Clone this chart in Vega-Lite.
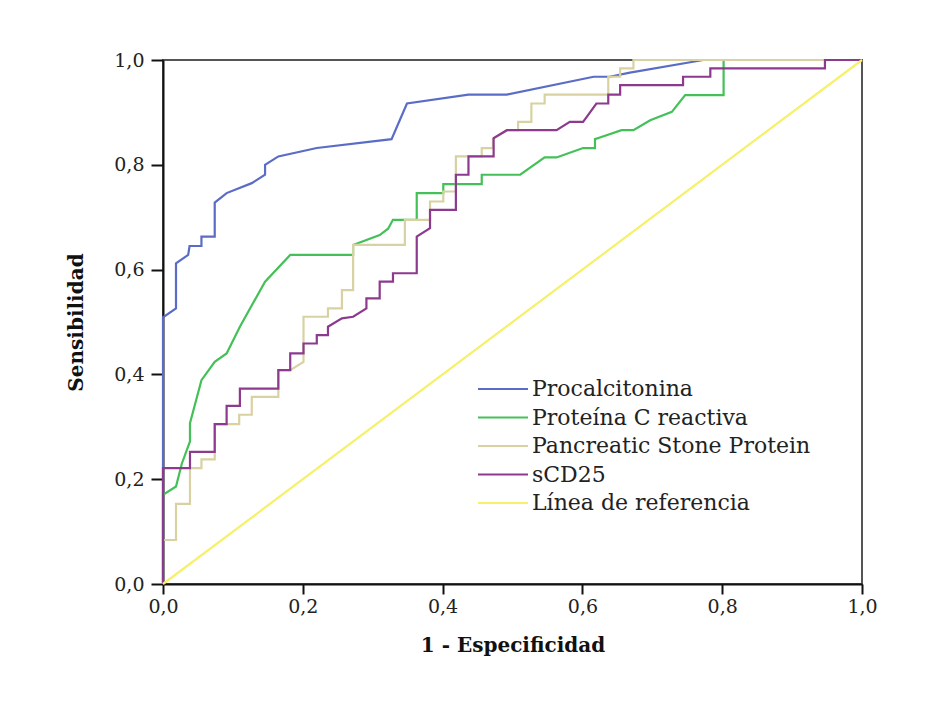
{
  "$schema": "https://vega.github.io/schema/vega-lite/v6.json",
  "autosize": "none",
  "width": 699,
  "height": 524,
  "padding": {"left": 163, "top": 60, "right": 75, "bottom": 127},
  "background": "white",
  "config": {
    "view": {"stroke": "#555555", "strokeWidth": 2},
    "font": "DejaVu Serif"
  },
  "data": {"values": [
    {"s":"Procalcitonina","i":0,"x":0,"y":0},
    {"s":"Procalcitonina","i":1,"x":0,"y":0.509},
    {"s":"Procalcitonina","i":2,"x":0.0186,"y":0.526},
    {"s":"Procalcitonina","i":3,"x":0.0186,"y":0.612},
    {"s":"Procalcitonina","i":4,"x":0.036,"y":0.628},
    {"s":"Procalcitonina","i":5,"x":0.038,"y":0.645},
    {"s":"Procalcitonina","i":6,"x":0.055,"y":0.645},
    {"s":"Procalcitonina","i":7,"x":0.055,"y":0.663},
    {"s":"Procalcitonina","i":8,"x":0.074,"y":0.663},
    {"s":"Procalcitonina","i":9,"x":0.074,"y":0.728},
    {"s":"Procalcitonina","i":10,"x":0.091,"y":0.746},
    {"s":"Procalcitonina","i":11,"x":0.127,"y":0.765},
    {"s":"Procalcitonina","i":12,"x":0.146,"y":0.781},
    {"s":"Procalcitonina","i":13,"x":0.146,"y":0.8},
    {"s":"Procalcitonina","i":14,"x":0.165,"y":0.816},
    {"s":"Procalcitonina","i":15,"x":0.22,"y":0.832},
    {"s":"Procalcitonina","i":16,"x":0.327,"y":0.849},
    {"s":"Procalcitonina","i":17,"x":0.349,"y":0.917},
    {"s":"Procalcitonina","i":18,"x":0.437,"y":0.934},
    {"s":"Procalcitonina","i":19,"x":0.492,"y":0.934},
    {"s":"Procalcitonina","i":20,"x":0.616,"y":0.968},
    {"s":"Procalcitonina","i":21,"x":0.639,"y":0.968},
    {"s":"Procalcitonina","i":22,"x":0.668,"y":0.976},
    {"s":"Procalcitonina","i":23,"x":0.773,"y":1.0},
    {"s":"Procalcitonina","i":24,"x":1.0,"y":1.0},

    {"s":"Proteína C reactiva","i":0,"x":0,"y":0},
    {"s":"Proteína C reactiva","i":1,"x":0,"y":0.17},
    {"s":"Proteína C reactiva","i":2,"x":0.0186,"y":0.186},
    {"s":"Proteína C reactiva","i":3,"x":0.027,"y":0.23},
    {"s":"Proteína C reactiva","i":4,"x":0.0386,"y":0.272},
    {"s":"Proteína C reactiva","i":5,"x":0.0386,"y":0.307},
    {"s":"Proteína C reactiva","i":6,"x":0.055,"y":0.389},
    {"s":"Proteína C reactiva","i":7,"x":0.074,"y":0.424},
    {"s":"Proteína C reactiva","i":8,"x":0.091,"y":0.44},
    {"s":"Proteína C reactiva","i":9,"x":0.11,"y":0.491},
    {"s":"Proteína C reactiva","i":10,"x":0.146,"y":0.577},
    {"s":"Proteína C reactiva","i":11,"x":0.182,"y":0.628},
    {"s":"Proteína C reactiva","i":12,"x":0.272,"y":0.628},
    {"s":"Proteína C reactiva","i":13,"x":0.272,"y":0.647},
    {"s":"Proteína C reactiva","i":14,"x":0.31,"y":0.666},
    {"s":"Proteína C reactiva","i":15,"x":0.322,"y":0.678},
    {"s":"Proteína C reactiva","i":16,"x":0.329,"y":0.695},
    {"s":"Proteína C reactiva","i":17,"x":0.363,"y":0.695},
    {"s":"Proteína C reactiva","i":18,"x":0.363,"y":0.746},
    {"s":"Proteína C reactiva","i":19,"x":0.401,"y":0.746},
    {"s":"Proteína C reactiva","i":20,"x":0.401,"y":0.763},
    {"s":"Proteína C reactiva","i":21,"x":0.456,"y":0.763},
    {"s":"Proteína C reactiva","i":22,"x":0.456,"y":0.781},
    {"s":"Proteína C reactiva","i":23,"x":0.511,"y":0.781},
    {"s":"Proteína C reactiva","i":24,"x":0.546,"y":0.814},
    {"s":"Proteína C reactiva","i":25,"x":0.563,"y":0.814},
    {"s":"Proteína C reactiva","i":26,"x":0.601,"y":0.832},
    {"s":"Proteína C reactiva","i":27,"x":0.618,"y":0.832},
    {"s":"Proteína C reactiva","i":28,"x":0.618,"y":0.849},
    {"s":"Proteína C reactiva","i":29,"x":0.625,"y":0.852},
    {"s":"Proteína C reactiva","i":30,"x":0.656,"y":0.866},
    {"s":"Proteína C reactiva","i":31,"x":0.673,"y":0.866},
    {"s":"Proteína C reactiva","i":32,"x":0.697,"y":0.885},
    {"s":"Proteína C reactiva","i":33,"x":0.728,"y":0.901},
    {"s":"Proteína C reactiva","i":34,"x":0.747,"y":0.933},
    {"s":"Proteína C reactiva","i":35,"x":0.802,"y":0.933},
    {"s":"Proteína C reactiva","i":36,"x":0.802,"y":1.0},
    {"s":"Proteína C reactiva","i":37,"x":1.0,"y":1.0},

    {"s":"Pancreatic Stone Protein","i":0,"x":0,"y":0},
    {"s":"Pancreatic Stone Protein","i":1,"x":0,"y":0.084},
    {"s":"Pancreatic Stone Protein","i":2,"x":0.0186,"y":0.084},
    {"s":"Pancreatic Stone Protein","i":3,"x":0.0186,"y":0.153},
    {"s":"Pancreatic Stone Protein","i":4,"x":0.0386,"y":0.153},
    {"s":"Pancreatic Stone Protein","i":5,"x":0.0386,"y":0.221},
    {"s":"Pancreatic Stone Protein","i":6,"x":0.055,"y":0.221},
    {"s":"Pancreatic Stone Protein","i":7,"x":0.055,"y":0.238},
    {"s":"Pancreatic Stone Protein","i":8,"x":0.074,"y":0.238},
    {"s":"Pancreatic Stone Protein","i":9,"x":0.074,"y":0.305},
    {"s":"Pancreatic Stone Protein","i":10,"x":0.109,"y":0.305},
    {"s":"Pancreatic Stone Protein","i":11,"x":0.109,"y":0.323},
    {"s":"Pancreatic Stone Protein","i":12,"x":0.127,"y":0.323},
    {"s":"Pancreatic Stone Protein","i":13,"x":0.127,"y":0.357},
    {"s":"Pancreatic Stone Protein","i":14,"x":0.165,"y":0.357},
    {"s":"Pancreatic Stone Protein","i":15,"x":0.165,"y":0.408},
    {"s":"Pancreatic Stone Protein","i":16,"x":0.182,"y":0.408},
    {"s":"Pancreatic Stone Protein","i":17,"x":0.201,"y":0.424},
    {"s":"Pancreatic Stone Protein","i":18,"x":0.201,"y":0.51},
    {"s":"Pancreatic Stone Protein","i":19,"x":0.236,"y":0.51},
    {"s":"Pancreatic Stone Protein","i":20,"x":0.236,"y":0.526},
    {"s":"Pancreatic Stone Protein","i":21,"x":0.256,"y":0.526},
    {"s":"Pancreatic Stone Protein","i":22,"x":0.256,"y":0.561},
    {"s":"Pancreatic Stone Protein","i":23,"x":0.272,"y":0.561},
    {"s":"Pancreatic Stone Protein","i":24,"x":0.272,"y":0.647},
    {"s":"Pancreatic Stone Protein","i":25,"x":0.346,"y":0.647},
    {"s":"Pancreatic Stone Protein","i":26,"x":0.346,"y":0.695},
    {"s":"Pancreatic Stone Protein","i":27,"x":0.382,"y":0.695},
    {"s":"Pancreatic Stone Protein","i":28,"x":0.382,"y":0.73},
    {"s":"Pancreatic Stone Protein","i":29,"x":0.401,"y":0.73},
    {"s":"Pancreatic Stone Protein","i":30,"x":0.401,"y":0.749},
    {"s":"Pancreatic Stone Protein","i":31,"x":0.419,"y":0.749},
    {"s":"Pancreatic Stone Protein","i":32,"x":0.419,"y":0.816},
    {"s":"Pancreatic Stone Protein","i":33,"x":0.456,"y":0.816},
    {"s":"Pancreatic Stone Protein","i":34,"x":0.456,"y":0.832},
    {"s":"Pancreatic Stone Protein","i":35,"x":0.472,"y":0.832},
    {"s":"Pancreatic Stone Protein","i":36,"x":0.472,"y":0.849},
    {"s":"Pancreatic Stone Protein","i":37,"x":0.492,"y":0.866},
    {"s":"Pancreatic Stone Protein","i":38,"x":0.508,"y":0.866},
    {"s":"Pancreatic Stone Protein","i":39,"x":0.508,"y":0.882},
    {"s":"Pancreatic Stone Protein","i":40,"x":0.527,"y":0.882},
    {"s":"Pancreatic Stone Protein","i":41,"x":0.527,"y":0.917},
    {"s":"Pancreatic Stone Protein","i":42,"x":0.546,"y":0.917},
    {"s":"Pancreatic Stone Protein","i":43,"x":0.546,"y":0.934},
    {"s":"Pancreatic Stone Protein","i":44,"x":0.637,"y":0.934},
    {"s":"Pancreatic Stone Protein","i":45,"x":0.637,"y":0.968},
    {"s":"Pancreatic Stone Protein","i":46,"x":0.654,"y":0.968},
    {"s":"Pancreatic Stone Protein","i":47,"x":0.654,"y":0.984},
    {"s":"Pancreatic Stone Protein","i":48,"x":0.673,"y":0.984},
    {"s":"Pancreatic Stone Protein","i":49,"x":0.673,"y":1.0},
    {"s":"Pancreatic Stone Protein","i":50,"x":1.0,"y":1.0},

    {"s":"sCD25","i":0,"x":0,"y":0},
    {"s":"sCD25","i":1,"x":0,"y":0.221},
    {"s":"sCD25","i":2,"x":0.0386,"y":0.221},
    {"s":"sCD25","i":3,"x":0.0386,"y":0.252},
    {"s":"sCD25","i":4,"x":0.074,"y":0.252},
    {"s":"sCD25","i":5,"x":0.074,"y":0.305},
    {"s":"sCD25","i":6,"x":0.091,"y":0.305},
    {"s":"sCD25","i":7,"x":0.091,"y":0.34},
    {"s":"sCD25","i":8,"x":0.11,"y":0.34},
    {"s":"sCD25","i":9,"x":0.11,"y":0.373},
    {"s":"sCD25","i":10,"x":0.165,"y":0.373},
    {"s":"sCD25","i":11,"x":0.165,"y":0.408},
    {"s":"sCD25","i":12,"x":0.182,"y":0.408},
    {"s":"sCD25","i":13,"x":0.182,"y":0.44},
    {"s":"sCD25","i":14,"x":0.201,"y":0.44},
    {"s":"sCD25","i":15,"x":0.201,"y":0.459},
    {"s":"sCD25","i":16,"x":0.22,"y":0.459},
    {"s":"sCD25","i":17,"x":0.22,"y":0.475},
    {"s":"sCD25","i":18,"x":0.236,"y":0.475},
    {"s":"sCD25","i":19,"x":0.236,"y":0.491},
    {"s":"sCD25","i":20,"x":0.256,"y":0.507},
    {"s":"sCD25","i":21,"x":0.272,"y":0.51},
    {"s":"sCD25","i":22,"x":0.291,"y":0.526},
    {"s":"sCD25","i":23,"x":0.291,"y":0.545},
    {"s":"sCD25","i":24,"x":0.31,"y":0.545},
    {"s":"sCD25","i":25,"x":0.31,"y":0.577},
    {"s":"sCD25","i":26,"x":0.329,"y":0.577},
    {"s":"sCD25","i":27,"x":0.329,"y":0.593},
    {"s":"sCD25","i":28,"x":0.363,"y":0.593},
    {"s":"sCD25","i":29,"x":0.363,"y":0.663},
    {"s":"sCD25","i":30,"x":0.382,"y":0.679},
    {"s":"sCD25","i":31,"x":0.382,"y":0.714},
    {"s":"sCD25","i":32,"x":0.419,"y":0.714},
    {"s":"sCD25","i":33,"x":0.419,"y":0.781},
    {"s":"sCD25","i":34,"x":0.437,"y":0.781},
    {"s":"sCD25","i":35,"x":0.437,"y":0.816},
    {"s":"sCD25","i":36,"x":0.473,"y":0.816},
    {"s":"sCD25","i":37,"x":0.473,"y":0.851},
    {"s":"sCD25","i":38,"x":0.492,"y":0.866},
    {"s":"sCD25","i":39,"x":0.563,"y":0.866},
    {"s":"sCD25","i":40,"x":0.582,"y":0.882},
    {"s":"sCD25","i":41,"x":0.601,"y":0.882},
    {"s":"sCD25","i":42,"x":0.62,"y":0.917},
    {"s":"sCD25","i":43,"x":0.637,"y":0.917},
    {"s":"sCD25","i":44,"x":0.637,"y":0.934},
    {"s":"sCD25","i":45,"x":0.654,"y":0.934},
    {"s":"sCD25","i":46,"x":0.654,"y":0.952},
    {"s":"sCD25","i":47,"x":0.744,"y":0.952},
    {"s":"sCD25","i":48,"x":0.744,"y":0.968},
    {"s":"sCD25","i":49,"x":0.783,"y":0.968},
    {"s":"sCD25","i":50,"x":0.783,"y":0.984},
    {"s":"sCD25","i":51,"x":0.947,"y":0.984},
    {"s":"sCD25","i":52,"x":0.947,"y":1.0},
    {"s":"sCD25","i":53,"x":1.0,"y":1.0},

    {"s":"Línea de referencia","i":0,"x":0,"y":0},
    {"s":"Línea de referencia","i":1,"x":1.0,"y":1.0}
  ]},
  "mark": {"type": "line", "strokeWidth": 2.2, "clip": false},
  "encoding": {
    "x": {
      "field": "x", "type": "quantitative",
      "scale": {"domain": [0, 1], "nice": false},
      "axis": {
        "title": "1 - Especificidad",
        "values": [0, 0.2, 0.4, 0.6, 0.8, 1.0],
        "labelExpr": "replace(format(datum.value, '.1f'), '.', ',')",
        "grid": false,
        "tickSize": 10, "tickWidth": 2, "tickColor": "#111111",
        "domainColor": "#111111", "domainWidth": 2,
        "labelFont": "DejaVu Serif", "labelFontSize": 19, "labelColor": "#222222",
        "labelPadding": 3, "labelFlush": false,
        "titleFont": "DejaVu Serif", "titleFontSize": 20, "titleFontWeight": "bold",
        "titleColor": "#111111", "titlePadding": 19
      }
    },
    "y": {
      "field": "y", "type": "quantitative",
      "scale": {"domain": [0, 1], "nice": false},
      "axis": {
        "title": "Sensibilidad",
        "values": [0, 0.2, 0.4, 0.6, 0.8, 1.0],
        "labelExpr": "replace(format(datum.value, '.1f'), '.', ',')",
        "grid": false,
        "tickSize": 12, "tickWidth": 2, "tickColor": "#111111",
        "domainColor": "#111111", "domainWidth": 2,
        "labelFont": "DejaVu Serif", "labelFontSize": 19, "labelColor": "#222222",
        "labelPadding": 7, "labelFlush": false,
        "titleFont": "DejaVu Serif", "titleFontSize": 20, "titleFontWeight": "bold",
        "titleColor": "#111111", "titlePadding": 27
      }
    },
    "color": {
      "field": "s", "type": "nominal",
      "scale": {
        "domain": ["Procalcitonina", "Proteína C reactiva", "Pancreatic Stone Protein", "sCD25", "Línea de referencia"],
        "range": ["#5a6cc6", "#44c058", "#d8d2a2", "#8c3a8e", "#f6f06a"]
      },
      "legend": {
        "title": null,
        "orient": "none",
        "legendX": 329,
        "legendY": 318,
        "padding": 0,
        "symbolType": "M-2.5,0H2.5",
        "symbolSize": 400,
        "symbolStrokeWidth": 2,
        "labelFont": "DejaVu Serif",
        "labelFontSize": 22,
        "labelColor": "#222222",
        "labelOffset": 18,
        "labelLimit": 0,
        "rowPadding": 6.5
      }
    },
    "order": {"field": "i", "type": "quantitative"}
  }
}
